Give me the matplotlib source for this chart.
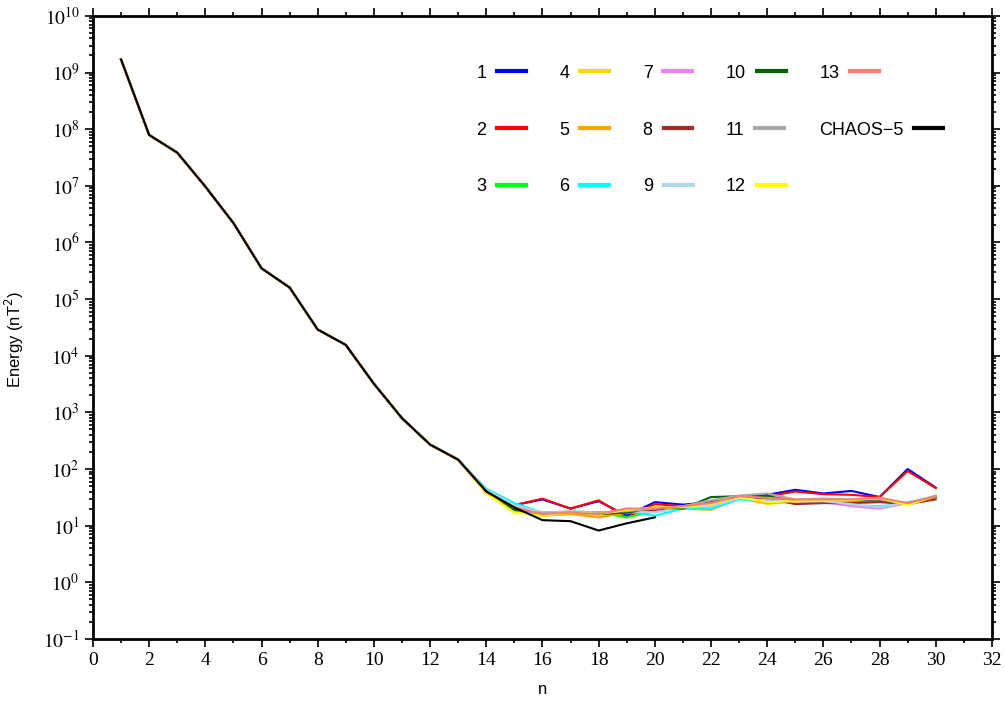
import numpy as np
import matplotlib
matplotlib.use("Agg")
import matplotlib.pyplot as plt
from matplotlib.ticker import MultipleLocator, LogLocator, FixedLocator, NullFormatter

# spherical harmonic degree
n = np.arange(1, 31)

# low degrees: all models (and CHAOS-5) practically identical
common = [1.7e9, 7.9e7, 3.85e7, 9.7e6, 2.2e6, 3.5e5, 1.6e5, 2.9e4, 1.55e4,
          3.2e3, 790, 270, 146]

# degrees 14..30 for each model
tail_1 = [40, 23, 29, 20, 27, 15, 26, 23.5, 26, 31, 35, 43, 37, 41, 32, 100, 47]
tail_2 = [40, 23, 30, 20, 28, 14, 24, 22, 25, 31, 33, 40, 36, 35, 32, 92, 46]
tail_3 = [42, 20, 16, 18, 17, 14, 18, 20, 22, 30, 29, 27, 28, 27, 27, 25, 33]
tail_4 = [38, 18, 15, 16, 15, 17, 19, 20, 20, 32, 24, 27, 26, 27, 30, 24, 32]
tail_5 = [39, 19, 15, 16, 14, 17, 18, 20, 19, 30, 25, 27, 27, 26, 31, 24, 32]
tail_6 = [45, 25, 17, 17, 17, 18, 15, 20, 20, 29, 27, 28, 27, 23, 22, 25, 33]
tail_7 = [42, 22, 17, 17, 16, 20, 18, 21, 24, 32, 28, 27, 26, 22, 20, 25, 32]
tail_8 = [40, 20, 16, 17, 17, 17, 19, 22, 25, 31, 30, 24, 25, 25, 26, 24, 29]
tail_9 = [43, 23, 17, 18, 17, 18, 17, 21, 22, 30, 28, 27, 27, 24, 21, 26, 33]
tail_10 = [41, 19, 16, 17, 16, 17, 21, 20, 32, 33, 33, 28, 29, 28, 28, 25, 32]
tail_11 = [38, 17, 17, 17, 17, 18, 20, 22, 28, 34, 37, 29, 30, 29, 29, 24, 34]
tail_12 = [37, 17, 15, 17, 16, 19, 21, 21, 24, 32, 26, 27, 28, 28, 31, 23, 33]
tail_13 = [40, 21, 16, 17, 16, 20, 20, 22, 25, 33, 31, 29, 29, 29, 31, 25, 33]

# CHAOS-5 only to degree 20
chaos_tail = [40, 21, 12.5, 12, 8.2, 11, 14]

labels = [str(i) for i in range(1, 14)]
tails = [tail_1, tail_2, tail_3, tail_4, tail_5, tail_6, tail_7, tail_8,
         tail_9, tail_10, tail_11, tail_12, tail_13]
colors = ["blue", "red", "lime", "gold", "orange", "cyan", "violet", "brown",
          "lightblue", "darkgreen", "darkgray", "yellow", "salmon"]

plt.rcParams["mathtext.fontset"] = "stix"
plt.rcParams["font.family"] = "Liberation Sans"

fig = plt.figure(figsize=(10.05, 7.06), dpi=100)
ax = fig.add_axes([0.0925, 0.095, 0.8945, 0.8825])

for lab, tail, c in zip(labels, tails, colors):
    ax.plot(n, common + tail, color=c, lw=1.5, label=lab)
ax.plot(n[:20], common + chaos_tail, color="black", lw=1.5, label="CHAOS\u22125")

ax.set_yscale("log")
ax.set_xlim(0, 32)
ax.set_ylim(1e-1, 1e10)

ax.xaxis.set_major_locator(MultipleLocator(2))
ax.xaxis.set_minor_locator(MultipleLocator(1))
ax.yaxis.set_major_locator(FixedLocator([10.0**k for k in range(-1, 11)]))
ax.yaxis.set_minor_locator(LogLocator(base=10, subs=np.arange(2, 10), numticks=30))
ax.yaxis.set_minor_formatter(NullFormatter())
ax.set_yticklabels(["$10^{%d}$" % k if k >= 0 else "$10^{\u2212%d}$" % -k
                    for k in range(-1, 11)])

for lab in ax.get_xticklabels():
    lab.set_fontfamily("Liberation Serif")
    lab.set_fontsize(14)
for lab in ax.get_yticklabels():
    lab.set_fontsize(14)

ax.tick_params(which="both", direction="out", top=True, right=True, width=1.2)
ax.tick_params(which="major", length=6)
ax.tick_params(which="minor", length=3)
for s in ax.spines.values():
    s.set_linewidth(2)

ax.set_xlabel("n", fontsize=12, labelpad=9)
ax.set_ylabel("Energy (nT$^2$)", fontsize=12, math_fontfamily="dejavusans")
ax.yaxis.set_label_coords(-0.075, 0.48)

leg = ax.legend(ncol=5, markerfirst=False, frameon=False, fontsize=13,
                handlelength=1.6, handletextpad=0.6, columnspacing=1.85,
                labelspacing=2.2, borderpad=0, loc="upper left",
                bbox_to_anchor=(0.465, 0.921), bbox_transform=fig.transFigure)
for h in leg.get_lines():
    h.set_linewidth(3)
# labels sit left-aligned in each column, handles follow the text
for col in leg._legend_handle_box.get_children():
    col.align = "left"

fig.savefig("out.png", dpi=100)
